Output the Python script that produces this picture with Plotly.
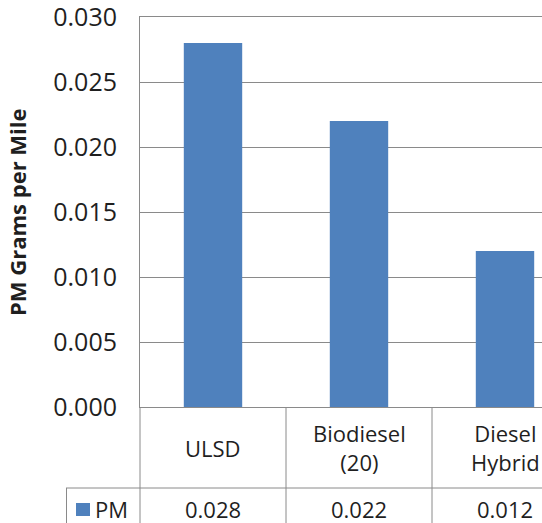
import plotly.graph_objects as go

categories = ["ULSD", "Biodiesel<br>(20)", "Diesel<br>Hybrid"]
pm_values = [0.028, 0.022, 0.012]
series_name = "PM"
y_title = "PM Grams per Mile"
tick_vals = [0.000, 0.005, 0.010, 0.015, 0.020, 0.025, 0.030]

BAR = "#4F81BD"
GRID = "#8a8a8a"
TXT = "#1f1f1f"
FONT = "Open Sans"

W, H = 542, 523
ML, MT, MB = 140, 17, 116
plot_h = H - MT - MB
plot_w = W - ML
cat_px = 146.0

def py(px):
    # pixel y -> paper y
    return (H - MB - px) / plot_h

def pxx(px):
    return (px - ML) / plot_w

xs = list(range(len(categories)))

fig = go.Figure()
fig.add_trace(go.Bar(x=xs, y=pm_values, marker=dict(color=BAR, line=dict(width=0)),
                     width=0.4, name=series_name, showlegend=False, hoverinfo="skip"))

shapes = []
line = dict(color=GRID, width=1)
shapes.append(dict(type="line", xref="paper", yref="paper", x0=pxx(66), x1=1.0,
                   y0=py(488), y1=py(488), line=line))
shapes.append(dict(type="line", xref="paper", yref="paper", x0=0, x1=0,
                   y0=0, y1=py(H + 5), line=line))
for i in range(len(categories) - 1):
    shapes.append(dict(type="line", xref="x", yref="paper", x0=i + 0.5, x1=i + 0.5,
                       y0=0, y1=py(H + 5), line=line))
shapes.append(dict(type="line", xref="paper", yref="paper", x0=pxx(66.5), x1=pxx(66.5),
                   y0=py(488), y1=py(H + 5), line=line))
shapes.append(dict(type="rect", xref="paper", yref="paper", x0=pxx(76), x1=pxx(90),
                   y0=py(516), y1=py(503), fillcolor=BAR, line=dict(width=0)))

annotations = []
for i, (c, v) in enumerate(zip(categories, pm_values)):
    annotations.append(dict(x=i, y=py(447.5), xref="x", yref="paper", text=c,
                            showarrow=False, xanchor="center", yanchor="middle",
                            font=dict(family=FONT, size=22, color=TXT)))
    annotations.append(dict(x=i, y=py(509), xref="x", yref="paper", text=f"{v:.3f}",
                            showarrow=False, xanchor="center", yanchor="middle",
                            font=dict(family=FONT, size=22, color=TXT)))
annotations.append(dict(x=pxx(93), y=py(509), xref="paper", yref="paper", text=series_name,
                        showarrow=False, xanchor="left", yanchor="middle",
                        font=dict(family=FONT, size=22, color=TXT)))
annotations.append(dict(x=pxx(17), y=0.5, xref="paper", yref="paper", text=f"<b>{y_title}</b>",
                        showarrow=False, textangle=-90, xanchor="center", yanchor="middle",
                        font=dict(family=FONT, size=22, color=TXT)))

fig.update_layout(
    width=W, height=H,
    margin=dict(l=ML, r=0, t=MT, b=MB, pad=0),
    paper_bgcolor="white", plot_bgcolor="white",
    shapes=shapes, annotations=annotations,
    xaxis=dict(range=[-0.5, -0.5 + plot_w / cat_px], showticklabels=False, showgrid=False,
               showline=True, mirror=True, linecolor=GRID, linewidth=1, zeroline=False,
               ticks="", fixedrange=True),
    yaxis=dict(range=[0, 0.0300001], tickvals=tick_vals, tickformat=".3f", showgrid=True,
               gridcolor=GRID, gridwidth=1, showline=True, linecolor=GRID, linewidth=1,
               zeroline=False, ticks="", ticklabelstandoff=17, ticklabeloverflow="allow",
               tickfont=dict(family=FONT, size=25, color=TXT), fixedrange=True),
    font=dict(family=FONT, color=TXT),
)

fig.write_html(
    "out.html",
    config={"displayModeBar": False},
    post_script="document.body.style.margin='0';document.body.style.overflow='hidden';",
)
